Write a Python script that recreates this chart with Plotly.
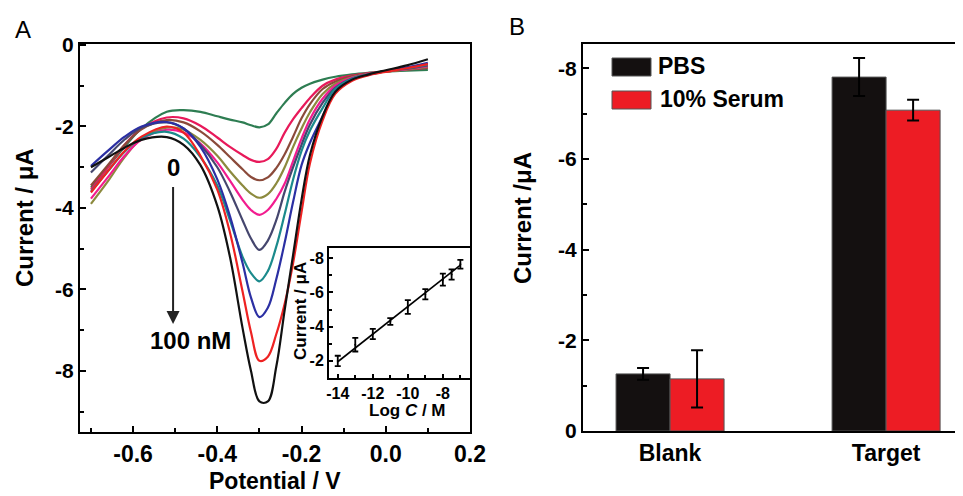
import plotly.graph_objects as go

FONT = "Liberation Sans, Arial, sans-serif"

# ---------------- Panel A: DPV curves ----------------
POTENTIAL = [-0.70, -0.66, -0.62, -0.58, -0.52, -0.48, -0.44, -0.40, -0.37, -0.34, -0.32, -0.30,
             -0.28, -0.26, -0.24, -0.22, -0.20, -0.18, -0.15, -0.12, -0.08, -0.04, 0.00, 0.05, 0.10]

I_0 = [-3.50, -3.00, -2.50, -2.05, -1.64, -1.60, -1.64, -1.75, -1.83, -1.90, -1.97, -2.02,
       -1.95, -1.68, -1.42, -1.20, -1.05, -0.95, -0.85, -0.78, -0.72, -0.68, -0.65, -0.63, -0.61]
I_1 = [-3.55, -3.00, -2.45, -2.05, -1.78, -1.80, -1.98, -2.27, -2.50, -2.70, -2.82, -2.87,
       -2.80, -2.55, -2.15, -1.82, -1.55, -1.30, -1.00, -0.85, -0.75, -0.69, -0.65, -0.60, -0.56]
I_2 = [-3.45, -2.95, -2.45, -2.07, -1.84, -1.90, -2.12, -2.45, -2.75, -3.05, -3.24, -3.32,
       -3.25, -3.02, -2.68, -2.25, -1.80, -1.45, -1.08, -0.90, -0.77, -0.70, -0.65, -0.60, -0.55]
I_3 = [-3.90, -3.35, -2.75, -2.30, -2.03, -2.08, -2.33, -2.72, -3.10, -3.45, -3.65, -3.75,
       -3.66, -3.40, -3.00, -2.50, -2.05, -1.65, -1.20, -0.95, -0.79, -0.71, -0.65, -0.60, -0.54]
I_4 = [-3.77, -3.25, -2.72, -2.32, -2.08, -2.15, -2.42, -2.88, -3.33, -3.80, -4.05, -4.17,
       -4.05, -3.78, -3.40, -2.85, -2.30, -1.82, -1.32, -1.00, -0.80, -0.71, -0.64, -0.59, -0.52]
I_5 = [-3.13, -2.72, -2.32, -2.03, -1.90, -2.05, -2.45, -3.00, -3.60, -4.30, -4.75, -5.03,
       -4.80, -4.30, -3.60, -3.00, -2.45, -1.95, -1.42, -1.05, -0.82, -0.72, -0.64, -0.58, -0.50]
I_6 = [-3.60, -3.10, -2.62, -2.28, -2.13, -2.30, -2.75, -3.45, -4.30, -5.20, -5.60, -5.80,
       -5.55, -4.95, -4.15, -3.30, -2.60, -2.10, -1.55, -1.08, -0.83, -0.72, -0.64, -0.57, -0.48]
I_7 = [-2.97, -2.60, -2.25, -2.00, -1.89, -2.05, -2.50, -3.30, -4.20, -5.35, -6.20, -6.68,
       -6.45, -5.75, -4.85, -3.85, -2.95, -2.40, -1.75, -1.15, -0.85, -0.73, -0.64, -0.55, -0.44]
I_8 = [-3.62, -3.10, -2.60, -2.25, -2.00, -2.15, -2.72, -3.55, -4.60, -6.05, -7.05, -7.75,
       -7.65, -7.10, -6.35, -5.35, -4.10, -2.90, -1.85, -1.20, -0.88, -0.74, -0.66, -0.57, -0.47]
I_9 = [-3.00, -2.76, -2.52, -2.33, -2.26, -2.45, -2.95, -3.95, -5.20, -6.95, -8.00, -8.75,
       -8.75, -7.90, -6.50, -5.15, -3.80, -2.70, -1.75, -1.15, -0.85, -0.72, -0.62, -0.50, -0.35]

CURVES = [I_0, I_1, I_2, I_3, I_4, I_5, I_6, I_7, I_8, I_9]
CURVE_COLORS = ["#2E7D52", "#E8195A", "#8B4A3A", "#8C8A3E", "#F21C8F",
                "#45466E", "#1B8A8C", "#2B2FA3", "#EE2222", "#111111"]

A_XTICKS = [-0.6, -0.4, -0.2, 0.0, 0.2]
A_XTICKTEXT = ["-0.6", "-0.4", "-0.2", "0.0", "0.2"]
A_YTICKS = [0, -2, -4, -6, -8]
A_YTICKTEXT = ["0", "-2", "-4", "-6", "-8"]

# ---------------- Inset: calibration ----------------
LOG_C = [-14, -13, -12, -11, -10, -9, -8, -7.5, -7]
PEAK_I = [-2.0, -2.95, -3.57, -4.3, -5.15, -5.9, -6.75, -7.05, -7.65]
PEAK_ERR = [0.3, 0.4, 0.3, 0.2, 0.4, 0.3, 0.35, 0.3, 0.25]
FIT_X = [-14.0, -7.0]
FIT_Y = [-1.95, -7.6]
IN_XTICKS = [-14, -12, -10, -8]
IN_XTICKTEXT = ["-14", "-12", "-10", "-8"]
IN_YTICKS = [-8, -6, -4, -2]
IN_YTICKTEXT = ["-8", "-6", "-4", "-2"]

# ---------------- Panel B: bars ----------------
CATEGORIES = ["Blank", "Target"]
PBS = [-1.26, -7.81]
PBS_ERR = [0.13, 0.42]
SERUM = [-1.15, -7.08]
SERUM_ERR = [0.63, 0.23]
B_YTICKS = [0, -2, -4, -6, -8]
B_YTICKTEXT = ["0", "-2", "-4", "-6", "-8"]

# page has an 8px body margin; the figure fills the rest of the 963x496 window
OFF = 8
W, H = 963 - OFF, 496 - OFF
def px(x):
    return (x - OFF) / W
def py(y):
    return 1 - (y - OFF) / H

fig = go.Figure()

for ys, col in zip(CURVES, CURVE_COLORS):
    fig.add_trace(go.Scatter(x=POTENTIAL, y=ys, mode="lines",
                             line=dict(color=col, width=2.2, shape="spline", smoothing=1.0),
                             xaxis="x", yaxis="y", showlegend=False, hoverinfo="skip"))

fig.add_trace(go.Scatter(x=FIT_X, y=FIT_Y, mode="lines", line=dict(color="black", width=1.6),
                         xaxis="x2", yaxis="y2", showlegend=False))
fig.add_trace(go.Scatter(x=LOG_C, y=PEAK_I, mode="markers",
                         marker=dict(size=2, color="black"),
                         error_y=dict(type="data", array=PEAK_ERR, color="black", thickness=1.8, width=3),
                         xaxis="x2", yaxis="y2", showlegend=False))

cat_x = list(range(len(CATEGORIES)))
fig.add_trace(go.Bar(x=cat_x, y=PBS, name="PBS", marker=dict(color="#141010", line=dict(color="#555555", width=1)),
                     error_y=dict(type="data", array=PBS_ERR, color="black", thickness=2, width=6),
                     xaxis="x3", yaxis="y3", showlegend=False))
fig.add_trace(go.Bar(x=cat_x, y=SERUM, name="10% Serum", marker=dict(color="#ED1C24", line=dict(color="#555555", width=1)),
                     error_y=dict(type="data", array=SERUM_ERR, color="black", thickness=2, width=6),
                     xaxis="x3", yaxis="y3", showlegend=False))

tick_font = dict(family=FONT, size=21, color="black", weight="bold")
in_font = dict(family=FONT, size=16, color="black", weight="bold")
axis_common = dict(showline=True, linecolor="black", linewidth=2, showgrid=False, zeroline=False,
                   ticks="inside", tickcolor="black", tickwidth=2, automargin=False)

fig.update_layout(
    width=W, height=H, margin=dict(l=0, r=0, t=0, b=0, autoexpand=False),
    paper_bgcolor="white", plot_bgcolor="white", showlegend=False,
    barmode="group", bargap=0.5, bargroupgap=0,
    xaxis=dict(domain=[px(80), px(470)], anchor="y", range=[-0.726, 0.2], mirror=True,
               tickmode="array", tickvals=A_XTICKS, ticktext=A_XTICKTEXT, ticklen=6,
               tickfont=dict(family=FONT, size=23, color="black", weight="bold"),
               minor=dict(ticks="inside", tickmode="array", tickvals=[-0.7, -0.5, -0.3, -0.1, 0.1],
                          ticklen=4, tickwidth=2, tickcolor="black"),
               **axis_common),
    yaxis=dict(domain=[py(432), py(44)], anchor="x", range=[-9.5, 0.025], mirror=True,
               tickmode="array", tickvals=A_YTICKS, ticktext=A_YTICKTEXT, ticklen=6,
               tickfont=tick_font,
               minor=dict(ticks="inside", tickmode="array", tickvals=[-1, -3, -5, -7, -9],
                          ticklen=4, tickwidth=2, tickcolor="black"),
               **axis_common),
    xaxis2=dict(domain=[px(329), px(470)], anchor="y2", range=[-14.5, -6.45], mirror=True,
                tickmode="array", tickvals=IN_XTICKS, ticktext=IN_XTICKTEXT, ticklen=4,
                tickfont=in_font,
                minor=dict(ticks="inside", tickmode="array", tickvals=[-13, -11, -9, -7],
                           ticklen=3, tickwidth=2, tickcolor="black"),
                **axis_common),
    yaxis2=dict(domain=[py(378), py(248)], anchor="x2", range=[-1.0, -8.6], mirror=True,
                tickmode="array", tickvals=IN_YTICKS, ticktext=IN_YTICKTEXT, ticklen=4,
                tickfont=in_font,
                minor=dict(ticks="inside", tickmode="array", tickvals=[-3, -5, -7],
                           ticklen=3, tickwidth=2, tickcolor="black"),
                **axis_common),
    xaxis3=dict(domain=[px(583), 1.0], anchor="y3", range=[-0.403, 1.356], mirror=True,
                tickmode="array", tickvals=cat_x, ticktext=CATEGORIES, automargin=False,
                showline=True, linecolor="black", linewidth=2, showgrid=False, zeroline=False, ticks="",
                tickfont=dict(family=FONT, size=23, color="black", weight="bold")),
    yaxis3=dict(domain=[py(431), py(44)], anchor="x3", range=[0, -8.54], mirror=False,
                tickmode="array", tickvals=B_YTICKS, ticktext=B_YTICKTEXT, ticklen=6,
                tickfont=tick_font,
                minor=dict(ticks="inside", tickmode="array", tickvals=[-1, -3, -5, -7],
                           ticklen=4, tickwidth=2, tickcolor="black"),
                **axis_common),
)

def ann(x, y, text, size, bold=True, angle=0, xanchor="center", **kw):
    d = dict(x=x, y=y, xref="paper", yref="paper", text=text, showarrow=False, textangle=angle,
             xanchor=xanchor, yanchor="middle",
             font=dict(family=FONT, size=size, color="black", weight="bold" if bold else "normal"))
    d.update(kw)
    fig.add_annotation(**d)

ann(px(23), py(30), "A", 24, bold=False)
ann(px(517), py(27), "B", 24, bold=False)
ann(px(24), py(218), "Current / μA", 24, angle=-90)
ann(px(275), py(481), "Potential / V", 23)
ann(px(522), py(218), "Current /μA", 24, angle=-90)
ann(px(300), py(311), "Current / μA", 17, angle=-90)
ann(px(407), py(410), "Log <i>C</i> / M", 17)

# arrow and concentration labels in panel A (data coordinates)
fig.add_annotation(x=-0.505, y=-6.85, xref="x", yref="y", ax=-0.505, ay=-3.45, axref="x", ayref="y",
                   text="", showarrow=True, arrowhead=2, arrowsize=1.3, arrowwidth=2, arrowcolor="#222")
fig.add_annotation(x=-0.503, y=-3.0, xref="x", yref="y", text="0", showarrow=False,
                   font=dict(family=FONT, size=24, color="black", weight="bold"))
fig.add_annotation(x=-0.464, y=-7.25, xref="x", yref="y", text="100 nM", showarrow=False,
                   font=dict(family=FONT, size=24, color="black", weight="bold"))

# legend for panel B
fig.add_shape(type="rect", xref="paper", yref="paper", x0=px(612), x1=px(651), y0=py(76), y1=py(58),
              fillcolor="#141010", line=dict(color="#555555", width=1))
fig.add_shape(type="rect", xref="paper", yref="paper", x0=px(612), x1=px(651), y0=py(109), y1=py(91),
              fillcolor="#ED1C24", line=dict(color="#555555", width=1))
ann(px(656), py(66), "PBS", 23, xanchor="left")
ann(px(658), py(99), "10% Serum", 23, xanchor="left")

fig.write_html("out.html")
